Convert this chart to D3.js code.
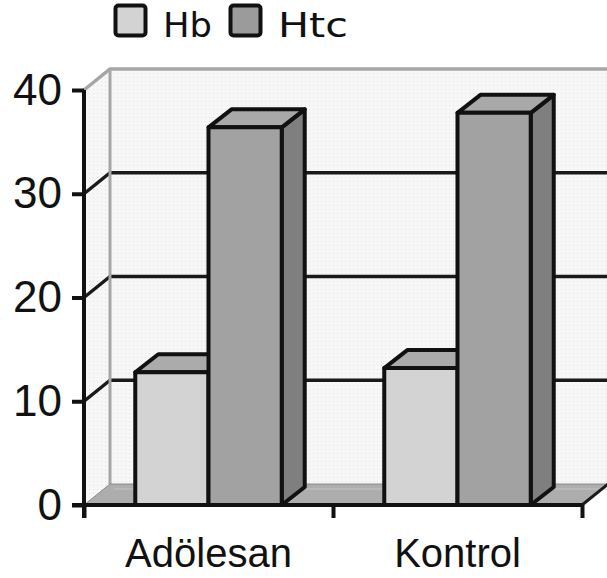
<!DOCTYPE html>
<html>
<head>
<meta charset="utf-8">
<script src="https://cdn.jsdelivr.net/npm/d3@7"></script>
<style>
  body { margin: 0; background: #fff; }
  svg { display: block; }
</style>
</head>
<body>
<svg id="chart" width="607" height="578"></svg>
<script>
var categories = ['Adölesan', 'Kontrol'];
var series = ['Hb', 'Htc'];
var hbValues = [12.8, 13.2];
var htcValues = [36.4, 37.8];
var yTicks = [0, 10, 20, 30, 40];

var frontColors = {'Hb': '#d3d3d3', 'Htc': '#a2a2a2'};
var topColors = {'Hb': '#ababab', 'Htc': '#a9a9a9'};
var sideColor = '#7f7f7f';

var plot = {left: 84, right: 582, top: 90, bottom: 505};
var wall = {dx: 26, dy: -21};   // depth of the back wall
var depth = {dx: 23, dy: -18};  // depth of the bars

var svg = d3.select('#chart');

var defs = svg.append('defs');
var pat = defs.append('pattern')
    .attr('id', 'dots')
    .attr('width', 4).attr('height', 4)
    .attr('patternUnits', 'userSpaceOnUse');
pat.append('rect').attr('width', 4).attr('height', 4).attr('fill', '#f7f7f7');
pat.append('rect').attr('x', 1).attr('y', 1).attr('width', 1).attr('height', 1).attr('fill', '#e2e2e2');

var y = d3.scaleLinear().domain([0, 40]).range([plot.bottom, plot.top]);
var x0 = d3.scaleBand().domain(categories).range([plot.left, plot.right]);
var x1 = d3.scaleBand().domain(series).range([0, x0.bandwidth()]).paddingInner(0).paddingOuter(0.7);
var xEdge = d3.scaleLinear().domain([0, categories.length]).range([plot.left, plot.right]);

var data = categories.map(function(c, i) {
    return {cat: c, values: [{key: 'Hb', v: hbValues[i]}, {key: 'Htc', v: htcValues[i]}]};
});

function pts(arr) { return arr.map(function(p) { return p.join(','); }).join(' '); }

// back wall
var bx = plot.left + wall.dx;
svg.append('rect')
    .attr('x', bx).attr('y', y(40) + wall.dy)
    .attr('width', 700).attr('height', y(0) - y(40))
    .attr('fill', 'url(#dots)');
// left side wall
svg.append('polygon')
    .attr('points', pts([[plot.left, y(40)], [bx, y(40) + wall.dy], [bx, y(0) + wall.dy], [plot.left, y(0)]]))
    .attr('fill', 'url(#dots)');

// gridlines (back wall + diagonal on the side wall)
var inner = yTicks.filter(function(t) { return t > 0 && t < 40; });
var grid = svg.append('g');
grid.selectAll('.gl')
    .data(inner)
    .join('line')
    .attr('class', 'gl')
    .attr('x1', bx).attr('x2', 700)
    .attr('y1', function(d) { return y(d) + wall.dy; })
    .attr('y2', function(d) { return y(d) + wall.dy; })
    .attr('stroke', '#1a1a1a').attr('stroke-width', 3.5);
grid.selectAll('.gd')
    .data(inner)
    .join('line')
    .attr('class', 'gd')
    .attr('x1', plot.left).attr('x2', bx)
    .attr('y1', function(d) { return y(d); })
    .attr('y2', function(d) { return y(d) + wall.dy; })
    .attr('stroke', '#1a1a1a').attr('stroke-width', 3.5);

// wall borders
svg.append('polyline')
    .attr('points', pts([[plot.left, y(40)], [bx, y(40) + wall.dy], [700, y(40) + wall.dy]]))
    .attr('fill', 'none').attr('stroke', '#a6a6a6').attr('stroke-width', 3.5);
svg.append('line')
    .attr('x1', bx).attr('x2', bx)
    .attr('y1', y(40) + wall.dy).attr('y2', y(0) + wall.dy)
    .attr('stroke', '#a6a6a6').attr('stroke-width', 3);

// floor
svg.append('polygon')
    .attr('points', pts([[plot.left, y(0)], [plot.right, y(0)], [plot.right + wall.dx, y(0) + wall.dy], [bx, y(0) + wall.dy]]))
    .attr('fill', '#adadad').attr('stroke', '#8a8a8a').attr('stroke-width', 1);
svg.append('line')
    .attr('x1', bx + 4).attr('x2', 700)
    .attr('y1', y(0) + wall.dy + 5).attr('y2', y(0) + wall.dy + 5)
    .attr('stroke', '#c4c4c4').attr('stroke-width', 1);
svg.append('line')
    .attr('x1', plot.right).attr('x2', plot.right + wall.dx)
    .attr('y1', y(0)).attr('y2', y(0) + wall.dy)
    .attr('stroke', '#1a1a1a').attr('stroke-width', 3);

// bars
var groups = svg.selectAll('.grp')
    .data(data)
    .join('g')
    .attr('class', 'grp')
    .attr('transform', function(d) { return 'translate(' + x0(d.cat) + ',0)'; });

groups.each(function(d) {
    var g = d3.select(this);
    d.values.forEach(function(s) {
        var xl = x1(s.key), xr = xl + x1.bandwidth();
        var yt = y(s.v), yb = y(0);
        var b = g.append('g')
            .attr('stroke', '#111').attr('stroke-width', 4).attr('stroke-linejoin', 'round');
        b.append('polygon')
            .attr('points', pts([[xr, yt], [xr + depth.dx, yt + depth.dy], [xr + depth.dx, yb + depth.dy], [xr, yb]]))
            .attr('fill', sideColor);
        b.append('polygon')
            .attr('points', pts([[xl, yt], [xl + depth.dx, yt + depth.dy], [xr + depth.dx, yt + depth.dy], [xr, yt]]))
            .attr('fill', topColors[s.key]);
        b.append('rect')
            .attr('x', xl).attr('y', yt)
            .attr('width', xr - xl).attr('height', yb - yt)
            .attr('fill', frontColors[s.key]);
    });
});

// y axis
var yAxis = svg.append('g')
    .attr('transform', 'translate(' + plot.left + ',0)')
    .call(d3.axisLeft(y).tickValues(yTicks).tickSize(12).tickPadding(10));
yAxis.select('.domain').remove();
yAxis.selectAll('.tick line').attr('stroke', '#111').attr('stroke-width', 4);
yAxis.selectAll('.tick text')
    .attr('font-family', 'Liberation Sans, Arial, sans-serif')
    .attr('font-size', 44).attr('fill', '#111');
svg.append('line')
    .attr('x1', plot.left).attr('x2', plot.left)
    .attr('y1', y(40)).attr('y2', y(0) + 13)
    .attr('stroke', '#111').attr('stroke-width', 4);

// x axis
svg.append('line')
    .attr('x1', plot.left - 12).attr('x2', plot.right)
    .attr('y1', y(0)).attr('y2', y(0))
    .attr('stroke', '#111').attr('stroke-width', 4);
var xTickAxis = svg.append('g')
    .attr('transform', 'translate(0,' + y(0) + ')')
    .call(d3.axisBottom(xEdge).ticks(categories.length).tickSize(13).tickFormat(''));
xTickAxis.select('.domain').remove();
xTickAxis.selectAll('.tick line').attr('stroke', '#111').attr('stroke-width', 4);

var xLabels = svg.append('g')
    .attr('transform', 'translate(0,' + y(0) + ')')
    .call(d3.axisBottom(x0).tickSize(0).tickPadding(62));
xLabels.select('.domain').remove();
xLabels.selectAll('.tick text')
    .attr('font-family', 'Liberation Sans, Arial, sans-serif')
    .attr('font-size', 40).attr('fill', '#111')
    .attr('dy', 0);

// legend
var legendX = [114, 229];
var legendW = [49, 70];
var legend = svg.selectAll('.leg')
    .data(series)
    .join('g')
    .attr('class', 'leg')
    .attr('transform', function(d, i) { return 'translate(' + legendX[i] + ',4)'; });
legend.append('rect')
    .attr('x', 1.5).attr('y', 1.5)
    .attr('width', 30).attr('height', 30).attr('rx', 3)
    .attr('fill', function(d) { return d === 'Hb' ? '#d3d3d3' : '#9b9b9b'; })
    .attr('stroke', '#111').attr('stroke-width', 4);
legend.append('text')
    .attr('x', 49).attr('y', 33)
    .attr('font-family', 'DejaVu Sans, sans-serif')
    .attr('font-size', 34).attr('fill', '#111')
    .attr('textLength', function(d, i) { return legendW[i]; })
    .attr('lengthAdjust', 'spacingAndGlyphs')
    .text(function(d) { return d; });
</script>
</body>
</html>
